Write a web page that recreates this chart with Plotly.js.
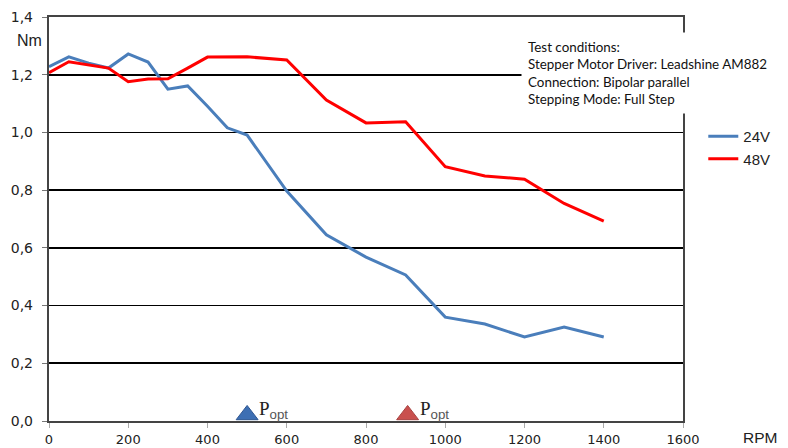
<!DOCTYPE html>
<html>
<head>
<meta charset="utf-8">
<script src="https://cdn.plot.ly/plotly-3.0.1.min.js"></script>
<style>html,body{margin:0;padding:0;background:#fff;}#chart{width:788px;height:448px;}</style>
</head>
<body>
<div id="chart"></div>
<script>
// Data
var rpm24 = [0, 50, 100, 150, 200, 250, 300, 350, 400, 450, 500, 600, 700, 800, 900, 1000, 1100, 1200, 1300, 1400];
var torque24 = [1.228, 1.262, 1.24, 1.223, 1.272, 1.244, 1.15, 1.161, 1.091, 1.016, 0.991, 0.797, 0.645, 0.568, 0.506, 0.36, 0.336, 0.291, 0.326, 0.291];
var rpm48 = [0, 50, 150, 200, 250, 300, 350, 400, 500, 600, 700, 800, 900, 1000, 1100, 1200, 1300, 1400];
var torque48 = [1.207, 1.245, 1.223, 1.176, 1.185, 1.186, 1.223, 1.261, 1.262, 1.251, 1.112, 1.033, 1.037, 0.881, 0.849, 0.838, 0.754, 0.693];
var seriesNames = ["24V", "48V"];
var poptRpm = [500, 905];
var poptLevel = [0.021, 0.021];
var xTicks = [0, 200, 400, 600, 800, 1000, 1200, 1400, 1600];
var yTicks = [0, 0.2, 0.4, 0.6, 0.8, 1.0, 1.2, 1.4];
var testLines = ["Test conditions:", "Stepper Motor Driver: Leadshine AM882", "Connection: Bipolar parallel", "Stepping Mode: Full Step"];

var blue = "#4a7ebb", red = "#ff0000";

var traces = [
  {x: rpm24, y: torque24, name: seriesNames[0], type: "scatter", mode: "lines",
   line: {color: blue, width: 3}},
  {x: rpm48, y: torque48, name: seriesNames[1], type: "scatter", mode: "lines",
   line: {color: red, width: 3}},
  {x: [poptRpm[0]], y: [poptLevel[0]], type: "scatter", mode: "markers", showlegend: false, hoverinfo: "skip",
   marker: {symbol: "triangle-up", size: 19, color: "#3d6fb3", line: {color: "#2d5590", width: 1}}},
  {x: [poptRpm[1]], y: [poptLevel[1]], type: "scatter", mode: "markers", showlegend: false, hoverinfo: "skip",
   marker: {symbol: "triangle-up", size: 19, color: "#c9504e", line: {color: "#a84240", width: 1}}}
];

var poptText = "P<sub><span style='font-family:Liberation Sans;fill:#555'>opt</span></sub>";

var layout = {
  width: 788, height: 448,
  margin: {l: 49, r: 105, t: 17, b: 27, pad: 0},
  paper_bgcolor: "#ffffff", plot_bgcolor: "#ffffff",
  separators: ", ",
  showlegend: true,
  font: {family: "Liberation Sans, Arial, sans-serif", color: "#222", size: 14},
  xaxis: {
    range: [0, 1600], tickvals: xTicks, ticks: "outside", ticklen: 5, tickcolor: "#aaa", tickwidth: 1,
    showgrid: false, zeroline: false, showline: true, linecolor: "#444", linewidth: 2, mirror: true,
    tickfont: {family: "DejaVu Sans, sans-serif", size: 13, color: "#222"}, fixedrange: true
  },
  yaxis: {
    range: [0, 1.4], tickvals: yTicks, tickformat: ".1f", ticks: "outside", ticklen: 5, tickcolor: "#777",
    ticklabelstandoff: 6,
    showgrid: true, gridcolor: "#000", gridwidth: 1.8, zeroline: false,
    showline: true, linecolor: "#444", linewidth: 2.2, mirror: true,
    tickfont: {family: "DejaVu Sans, sans-serif", size: 14, color: "#222"}, fixedrange: true
  },
  legend: {x: 1.032, y: 0.745, xanchor: "left", yanchor: "top", bgcolor: "rgba(0,0,0,0)",
    font: {size: 15, color: "#222"}, tracegroupgap: 0},
  annotations: [
    {xref: "paper", yref: "paper", x: 0.745, y: 0.963, xanchor: "left", yanchor: "top", align: "left",
     text: testLines.join("<br>"), showarrow: false, bgcolor: "#ffffff", borderpad: 6,
     font: {family: "Lato, sans-serif", size: 13.4, color: "#111"}},
    {xref: "paper", yref: "paper", x: -0.031, y: 0.942, xanchor: "center", yanchor: "middle",
     text: "Nm", showarrow: false, font: {size: 16, color: "#222"}},
    {xref: "paper", yref: "paper", x: 1.121, y: -0.04, xanchor: "center", yanchor: "middle",
     text: "RPM", showarrow: false, font: {size: 15.5, color: "#222"}},
    {xref: "x", yref: "y", x: poptRpm[0], y: 0, xanchor: "left", yanchor: "bottom", xshift: 10, yshift: -3,
     text: poptText, showarrow: false, font: {family: "Liberation Serif, serif", size: 19, color: "#222"}},
    {xref: "x", yref: "y", x: poptRpm[1], y: 0, xanchor: "left", yanchor: "bottom", xshift: 10, yshift: -3,
     text: poptText, showarrow: false, font: {family: "Liberation Serif, serif", size: 19, color: "#222"}}
  ]
};

Plotly.newPlot("chart", traces, layout, {displayModeBar: false, staticPlot: true});
</script>
</body>
</html>
